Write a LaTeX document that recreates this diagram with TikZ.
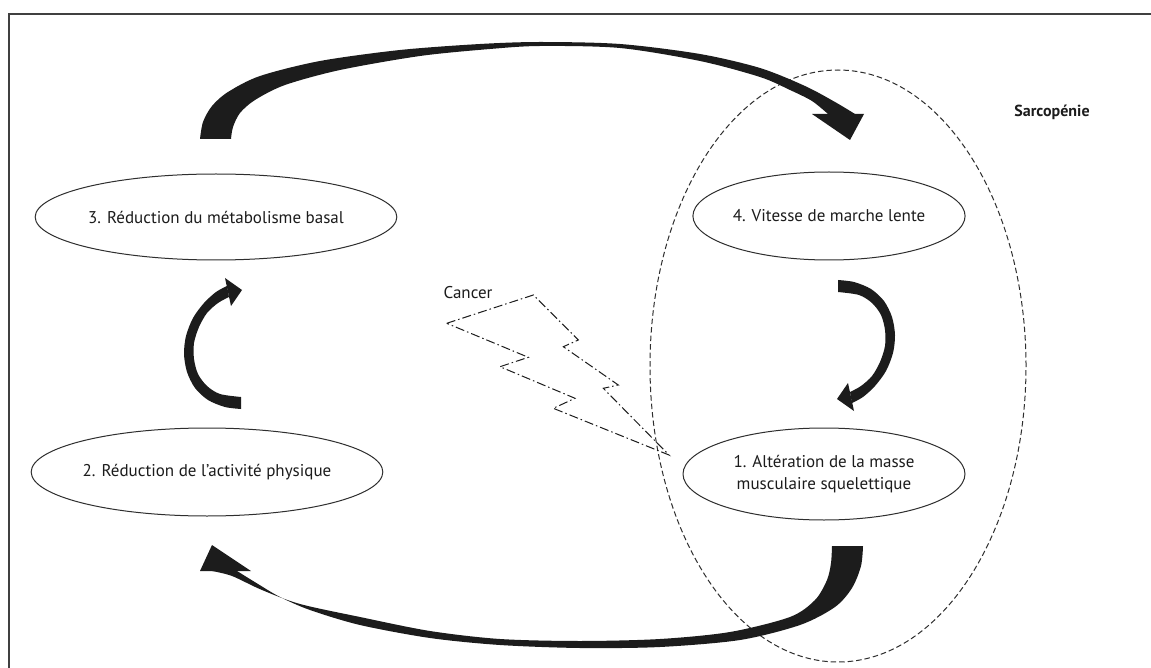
\documentclass[tikz,border=0pt]{standalone}
\usepackage{fontspec}
\setmainfont{PT Sans}
\usetikzlibrary{shapes.geometric}
\definecolor{ink}{HTML}{1C1C1C}
\definecolor{edge}{HTML}{2E2E2E}
\tikzset{
  oval/.style={ellipse, draw=edge, line width=1pt, inner sep=0pt, align=center,
    font=\fontsize{17}{22}\selectfont, text=ink},
  sarcobox/.style={ellipse, draw=edge, line width=1pt, dash pattern=on 5.5pt off 3pt, inner sep=0pt},
  label/.style={font=\fontsize{17}{20}\selectfont, text=ink, inner sep=0pt},
  boltline/.style={draw=ink, line width=1pt, dash pattern=on 9pt off 3pt on 1.5pt off 3pt},
  bigarrow/.style={fill=ink, draw=none},
  frameline/.style={draw=black!75, line width=1.6pt},
}
\begin{document}
\begin{tikzpicture}[x=1pt,y=-1pt]
\useasboundingbox (0,0) rectangle (1151,668);
\fill[white] (0,0) rectangle (1151,668);
% frame
\coordinate (fbl) at (9,668);
\coordinate (ftl) at (9,14);
\coordinate (ftr) at (1151,14);
\draw[frameline] (fbl) -- (ftl) -- (ftr);

% sarcopenia region
\node[sarcobox, minimum width=376, minimum height=592] (sarc) at (838,366) {};
\node[label, font=\bfseries\fontsize{16}{19}\selectfont] (sarclab) at (1052,112) {Sarcopénie};

% ellipses
\node[oval, minimum width=302, minimum height=86] (n3) at (216,217) {3. Réduction du métabolisme basal};
\node[oval, minimum width=272, minimum height=88] (n4) at (829,216) {4. Vitesse de marche lente};
\node[oval, minimum width=330, minimum height=88] (n2) at (207,472) {2. Réduction de l’activité physique};
\node[oval, minimum width=282, minimum height=92] (n1) at (824,474) {1. Altération de la masse\\musculaire squelettique};

% cancer bolt
\node[label] (cancer) at (468,293) {Cancer};
\draw[boltline] (446.7,323.3) -- (533.3,295) -- (578.3,340) -- (563.3,346.7) -- (618.3,385)
  -- (603.3,388.3) -- (669,455) -- (553.3,408.3) -- (575,398.3) -- (500,366.7)
  -- (528.3,357.3) -- cycle;

% top big arrow (3 -> 4)
\fill[bigarrow] plot[smooth] coordinates {(200,139) (203,122) (212,106) (228,92) (260,76) (320,61) (400,50) (480,44) (540,42) (620,44) (700,54) (760,68) (805,86) (835,102) (855,114)}
  -- plot[smooth] coordinates {(828,114) (812,101) (790,90) (760,77) (700,61) (620,48) (540,46) (490,49) (420,56) (340,70) (285,85) (255,100) (240,113) (233,127) (231,139)}
  -- cycle;
\fill[bigarrow] (812,114) -- (864,114) -- (850,140) -- cycle;

% bottom big arrow (1 -> 2)
\fill[bigarrow] plot[smooth] coordinates {(863,546) (861,566) (852,588) (835,607) (800,625) (740,640) (660,647) (580,648) (500,645) (430,638) (360,625) (310,610) (280,597) (258,584) (237,571)}
  -- plot[smooth] coordinates {(212,571) (232,576) (262,590) (300,604) (360,617) (430,631) (500,639) (580,641) (660,639) (730,632) (790,617) (815,600) (827,580) (831,563) (832,546)}
  -- cycle;
\fill[bigarrow] (200,571) -- (251,571) -- (212,545) -- cycle;

% small curled arrow (2 -> 3)
\fill[bigarrow] plot[smooth] coordinates {(241,409) (225,407) (208,400) (195,388) (187,372) (184,354) (186,336) (193,318) (204,303) (216,292) (227,286)}
  -- plot[smooth] coordinates {(229,297) (218,303) (207,313) (199,327) (194,343) (194,359) (198,374) (207,386) (220,394) (241,397)}
  -- cycle;
\fill[bigarrow] (225,278) -- (242,290) -- (231,306) -- cycle;

% small curled arrow (4 -> 1), point reflection
\begin{scope}[rotate around={180:(539.5,344.5)}]
\fill[bigarrow] plot[smooth] coordinates {(241,409) (225,407) (208,400) (195,388) (187,372) (184,354) (186,336) (193,318) (204,303) (216,292) (227,286)}
  -- plot[smooth] coordinates {(229,297) (218,303) (207,313) (199,327) (194,343) (194,359) (198,374) (207,386) (220,394) (241,397)}
  -- cycle;
\fill[bigarrow] (225,278) -- (242,290) -- (231,306) -- cycle;
\end{scope}
\end{tikzpicture}
\end{document}
